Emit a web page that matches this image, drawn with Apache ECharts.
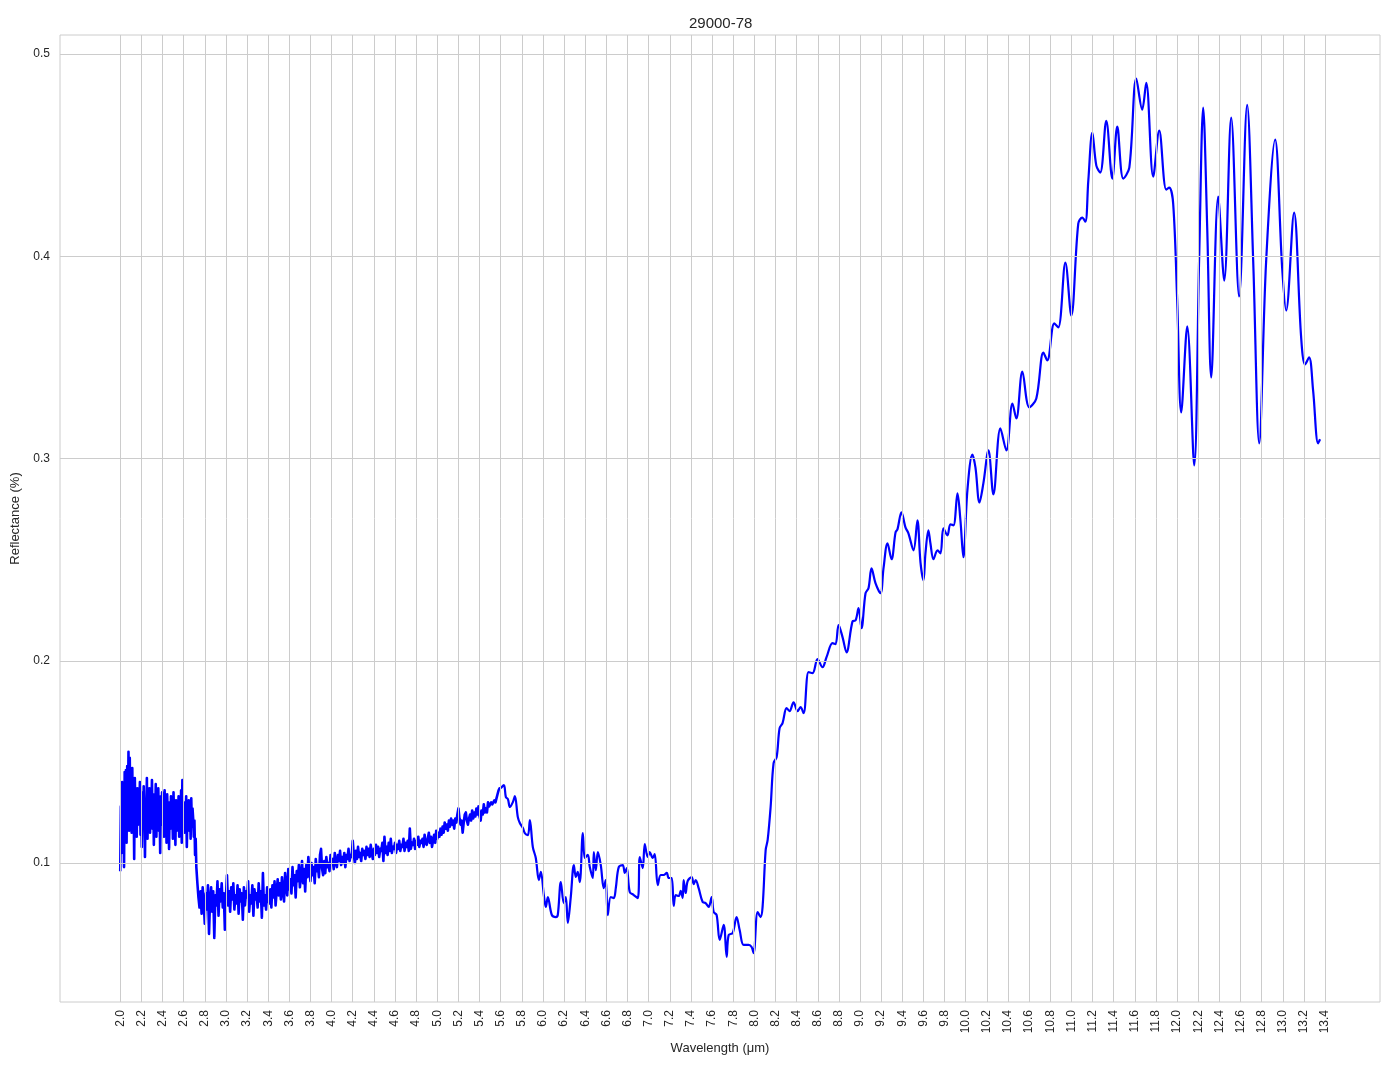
<!DOCTYPE html>
<html>
<head>
<meta charset="utf-8">
<script src="https://cdn.jsdelivr.net/npm/echarts@6/dist/echarts.min.js"></script>
<style>html,body{margin:0;padding:0;background:#fff}#chart{width:1394px;height:1069px}</style>
</head>
<body>
<div id="chart"></div>
<script>
const chartTitle = '29000-78';
const xAxisName = 'Wavelength (μm)';
const yAxisName = 'Reflectance (%)';
const xTicks = [2.0,2.2,2.4,2.6,2.8,3.0,3.2,3.4,3.6,3.8,4.0,4.2,4.4,4.6,4.8,5.0,5.2,5.4,5.6,5.8,6.0,6.2,6.4,6.6,6.8,7.0,7.2,7.4,7.6,7.8,8.0,8.2,8.4,8.6,8.8,9.0,9.2,9.4,9.6,9.8,10.0,10.2,10.4,10.6,10.8,11.0,11.2,11.4,11.6,11.8,12.0,12.2,12.4,12.6,12.8,13.0,13.2,13.4];
const yTicks = [0.1,0.2,0.3,0.4,0.5];

// Noisy part of the spectrum, sampled on a regular wavelength grid (start, step, readings)
const noisyStart1 = 2.0, noisyStep1 = 0.006;
const noisyVals1 = [
0.096,0.128,0.105,0.140,0.112,0.136,0.098,0.145,0.118,0.146,
0.110,0.148,0.120,0.155,0.116,0.152,0.125,0.138,0.115,0.147,
0.118,0.136,0.102,0.142,0.121,0.133,0.113,0.137,0.119,0.131,
0.124,0.140,0.114,0.129,0.108,0.135,0.117,0.138,0.126,0.103,
0.130,0.118,0.142,0.112,0.133,0.121,0.137,0.115,0.131,0.124,
0.141,0.117,0.134,0.109,0.128,0.120,0.139,0.113,0.132,0.122,
0.137,0.116,0.130,0.105,0.133,0.119,0.135,0.121,0.128,0.113,
0.136,0.118,0.131,0.110,0.134,0.123,0.129,0.107,0.130,0.117,
0.133,0.119,0.128,0.112,0.135,0.121,0.127,0.109,0.131,0.116,
0.129,0.120,0.133,0.113,0.126,0.118,0.136,0.110,0.141,0.119,
0.130,0.115,0.128,0.121,0.133,0.108,0.127,0.119,0.131,0.116,
0.129,0.112,0.132,0.118,0.127,0.122,0.113,0.121,0.104,0.112,
0.098];
const noisyStart2 = 2.73, noisyStep2 = 0.01;
const noisyVals2 = [
0.090,0.083,0.078,0.086,0.075,0.088,0.080,0.070,0.085,0.077,
0.089,0.065,0.082,0.088,0.076,0.086,0.063,0.084,0.079,0.091,
0.074,0.087,0.081,0.090,0.078,0.085,0.067,0.083,0.094,0.079,
0.086,0.076,0.088,0.082,0.090,0.077,0.084,0.080,0.089,0.075,
0.087,0.081,0.085,0.072,0.088,0.079,0.086,0.083,0.091,0.076,
0.084,0.080,0.089,0.074,0.087,0.082,0.085,0.078,0.090,0.081,
0.086,0.073,0.095,0.079,0.084,0.077,0.088,0.082];
const noisyStart3 = 3.41, noisyStep3 = 0.01;
const noisyVals3 = [
0.080,0.087,0.078,0.089,0.083,0.091,0.079,0.086,0.092,0.084,
0.090,0.082,0.093,0.086,0.081,0.095,0.088,0.084,0.097,0.087,
0.092,0.085,0.098,0.089,0.094,0.083,0.096,0.091,0.099,0.088,
0.094,0.101,0.090,0.097,0.086,0.099,0.093,0.103,0.095,0.091,
0.100,0.094,0.098,0.090,0.102,0.096,0.099,0.093,0.104,0.107,
0.097,0.094,0.101,0.095,0.103,0.098,0.100,0.096,0.104,0.099,
0.102,0.097,0.105,0.100,0.098,0.104,0.101,0.106,0.099,0.103,
0.100,0.105,0.098,0.104,0.102,0.107,0.101,0.104,0.103,0.111,
0.104,0.100,0.106,0.102,0.108,0.103,0.105,0.101,0.107,0.104,
0.106,0.102,0.108,0.104,0.107,0.103,0.109,0.105,0.102,0.107,
0.104,0.109,0.105,0.108,0.103,0.107,0.106,0.110,0.101,0.113,
0.105,0.108,0.104,0.110,0.106,0.112,0.105,0.108,0.107,0.110,
0.105,0.109,0.107,0.111,0.106,0.109,0.108,0.112,0.106,0.110,
0.108,0.111,0.106,0.117,0.107,0.110,0.109,0.112,0.107,0.111,
0.109,0.113,0.108,0.111,0.110,0.112,0.108,0.114,0.110,0.109,
0.112,0.115,0.110,0.113,0.108,0.111,0.114,0.110,0.116,0.112,
0.115,0.113,0.117,0.114,0.118,0.115,0.120,0.117,0.119,0.116,
0.121,0.118,0.122,0.119,0.121,0.117,0.122,0.120,0.124,0.127,
0.122,0.119,0.121,0.115,0.120,0.124,0.125,0.121,0.119,0.122,
0.124,0.121,0.126,0.122,0.125,0.123,0.127,0.124,0.128,0.123,
0.121,0.126,0.124,0.129,0.125,0.127,0.125,0.130,0.128,0.129,
0.130,0.129,0.130,0.131,0.130,0.132,0.134,0.136,0.137,0.137];

// Smoother part of the spectrum (wavelength / reflectance readings)
const smoothWl = [5.630,5.649,5.668,5.687,5.715,5.734,5.762,5.781,5.810,5.828,5.857,5.876,5.904,5.932,5.961,5.980,6.008,6.027,6.046,6.084,6.122,6.140,6.169,6.197,6.216,6.235,6.263,6.292,6.311,6.329,6.348,6.377,6.396,6.424,6.443,6.471,6.481,6.500,6.519,6.547,6.575,6.594,6.613,6.641,6.670,6.689,6.717,6.755,6.774,6.793,6.821,6.859,6.897,6.916,6.944,6.963,6.991,7.010,7.038,7.057,7.086,7.114,7.142,7.171,7.190,7.218,7.237,7.256,7.284,7.303,7.322,7.331,7.350,7.369,7.407,7.426,7.445,7.473,7.511,7.539,7.568,7.596,7.615,7.643,7.672,7.710,7.738,7.757,7.795,7.832,7.861,7.899,7.946,7.974,7.993,8.031,8.059,8.078,8.107,8.126,8.154,8.182,8.211,8.239,8.267,8.305,8.333,8.371,8.409,8.437,8.466,8.513,8.551,8.598,8.645,8.683,8.740,8.768,8.797,8.835,8.872,8.929,8.958,8.986,9.014,9.052,9.080,9.109,9.147,9.194,9.222,9.260,9.298,9.336,9.354,9.392,9.430,9.458,9.506,9.543,9.572,9.600,9.619,9.647,9.666,9.695,9.733,9.761,9.789,9.827,9.855,9.884,9.922,9.950,9.978,10.016,10.063,10.092,10.130,10.167,10.215,10.262,10.328,10.385,10.442,10.479,10.536,10.602,10.668,10.735,10.772,10.838,10.876,10.943,10.999,11.065,11.103,11.132,11.160,11.198,11.236,11.273,11.330,11.387,11.434,11.491,11.548,11.614,11.670,11.708,11.774,11.831,11.897,11.926,11.963,12.001,12.039,12.096,12.162,12.209,12.247,12.285,12.323,12.389,12.446,12.512,12.587,12.663,12.720,12.777,12.843,12.928,12.994,13.032,13.107,13.174,13.211,13.249,13.287,13.334,13.353];
const smoothVals = [0.1385,0.1326,0.1316,0.1277,0.1301,0.1331,0.1227,0.1198,0.1173,0.1148,0.1138,0.1212,0.1079,0.1025,0.0916,0.0956,0.0842,0.0783,0.0832,0.0743,0.0733,0.0743,0.0906,0.0802,0.0832,0.0704,0.0832,0.0990,0.0931,0.0956,0.0906,0.1148,0.1025,0.1040,0.0980,0.0926,0.1054,0.0965,0.1054,0.0990,0.0876,0.0916,0.0743,0.0832,0.0827,0.0876,0.0980,0.0990,0.0951,0.0975,0.0857,0.0842,0.0827,0.1030,0.0975,0.1094,0.1030,0.1054,0.1025,0.1044,0.0891,0.0941,0.0941,0.0951,0.0926,0.0926,0.0788,0.0842,0.0837,0.0862,0.0827,0.0916,0.0852,0.0911,0.0931,0.0896,0.0916,0.0876,0.0807,0.0802,0.0783,0.0832,0.0758,0.0743,0.0620,0.0694,0.0536,0.0644,0.0654,0.0733,0.0669,0.0595,0.0595,0.0585,0.0555,0.0758,0.0733,0.0783,0.1064,0.1114,0.1277,0.1494,0.1524,0.1667,0.1692,0.1766,0.1751,0.1795,0.1751,0.1771,0.1741,0.1944,0.1939,0.2008,0.1968,0.2018,0.2087,0.2082,0.2176,0.2116,0.2042,0.2195,0.2200,0.2260,0.2161,0.2334,0.2359,0.2457,0.2383,0.2334,0.2457,0.2581,0.2502,0.2635,0.2650,0.2734,0.2660,0.2630,0.2546,0.2694,0.2487,0.2398,0.2531,0.2645,0.2581,0.2502,0.2546,0.2531,0.2655,0.2620,0.2675,0.2670,0.2828,0.2694,0.2512,0.2843,0.3020,0.2956,0.2783,0.2877,0.3040,0.2823,0.3149,0.3040,0.3272,0.3198,0.3430,0.3253,0.3297,0.3524,0.3485,0.3668,0.3648,0.3969,0.3707,0.4162,0.4191,0.4171,0.4374,0.4611,0.4448,0.4414,0.4670,0.4384,0.4641,0.4384,0.4438,0.4878,0.4725,0.4858,0.4394,0.4621,0.4330,0.4339,0.4260,0.3781,0.3228,0.3653,0.2966,0.3994,0.4735,0.4142,0.3401,0.4295,0.3880,0.4685,0.3801,0.4749,0.3979,0.3075,0.3979,0.4577,0.3944,0.3732,0.4216,0.3598,0.3465,0.3500,0.3337,0.3075,0.3095];

function gridPoints(start, step, vals) {
  return vals.map((v, i) => [+(start + step * i).toFixed(4), v]);
}
const noisyData = [].concat(
  gridPoints(noisyStart1, noisyStep1, noisyVals1),
  gridPoints(noisyStart2, noisyStep2, noisyVals2),
  gridPoints(noisyStart3, noisyStep3, noisyVals3)
);
const smoothData = [noisyData[noisyData.length - 1]].concat(smoothWl.map((w, i) => [w, smoothVals[i]]));

const FONT = '"Liberation Sans", Arial, sans-serif';
const TXT = '#262626';
const GRIDC = '#cccccc';

const gridLines = xTicks.map(v => ({ xAxis: v })).concat(yTicks.map(v => ({ yAxis: v })));

const chart = echarts.init(document.getElementById('chart'), null, { renderer: 'canvas' });
chart.setOption({
  animation: false,
  backgroundColor: '#ffffff',
  title: {
    text: chartTitle, left: 684, top: 11,
    textStyle: { fontFamily: FONT, fontSize: 15, fontWeight: 'normal', color: TXT }
  },
  grid: { left: 60, right: 14, top: 35, bottom: 67, show: true, borderColor: GRIDC, borderWidth: 1, containLabel: false },
  xAxis: {
    type: 'value', min: 1.43, max: 13.92,
    name: xAxisName, nameLocation: 'middle', nameGap: 40,
    nameTextStyle: { fontFamily: FONT, fontSize: 13, color: TXT },
    axisLine: { show: false }, axisTick: { show: false }, splitLine: { show: false },
    axisLabel: { customValues: xTicks, rotate: 90, margin: 8, fontFamily: FONT, fontSize: 12, color: TXT,
      formatter: v => v.toFixed(1) }
  },
  yAxis: {
    type: 'value', min: 0.0313, max: 0.5094,
    name: yAxisName, nameLocation: 'middle', nameGap: 30,
    nameTextStyle: { fontFamily: FONT, fontSize: 13, color: TXT },
    axisLine: { show: false }, axisTick: { show: false }, splitLine: { show: false },
    axisLabel: { customValues: yTicks, margin: 10, fontFamily: FONT, fontSize: 12, color: TXT,
      formatter: v => v.toFixed(1) }
  },
  series: [
    {
      type: 'line', data: [], silent: true, z: 1,
      markLine: { silent: true, symbol: ['none', 'none'], label: { show: false },
        lineStyle: { color: GRIDC, width: 1, type: 'solid' }, emphasis: { disabled: true }, data: gridLines }
    },
    {
      type: 'line', data: noisyData, showSymbol: false, symbol: 'none', z: 3, sampling: null,
      lineStyle: { color: '#0000ff', width: 2.6, join: 'round' }, itemStyle: { color: '#0000ff' }
    },
    {
      type: 'line', data: smoothData, showSymbol: false, symbol: 'none', z: 3, smooth: 0.35,
      lineStyle: { color: '#0000ff', width: 2.2 }, itemStyle: { color: '#0000ff' }
    }
  ]
});
</script>
</body>
</html>
